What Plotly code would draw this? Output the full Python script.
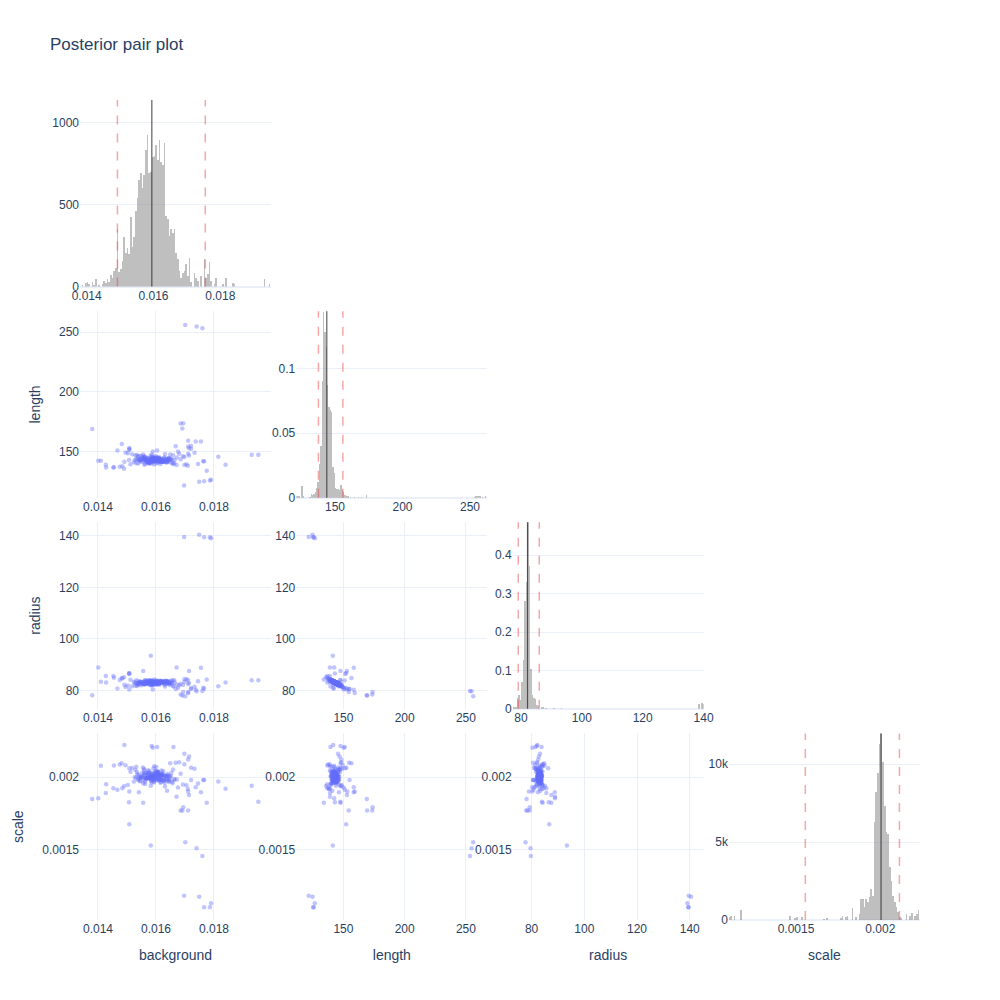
import plotly.graph_objects as go
from plotly.subplots import make_subplots

params = ["background", "length", "radius", "scale"]

# ---- posterior samples (thinned) ----
background = [
    0.01592, 0.01571, 0.01605, 0.01618, 0.01583, 0.01547, 0.01611, 0.01634, 0.01598, 0.01566,
    0.01623, 0.01557, 0.01589, 0.01602, 0.01641, 0.01615, 0.01579, 0.01538, 0.01596, 0.01652,
    0.01574, 0.01586, 0.01609, 0.01629, 0.01561, 0.01543, 0.01600, 0.01617, 0.01581, 0.01663,
    0.01595, 0.01626, 0.01552, 0.01588, 0.01607, 0.01637, 0.01569, 0.01593, 0.01529, 0.01612,
    0.01584, 0.01576, 0.01646, 0.01603, 0.01559, 0.01590, 0.01621, 0.01534, 0.01657, 0.01599,
    0.01518, 0.01563, 0.01672, 0.01610, 0.01587, 0.01577, 0.01644, 0.01601, 0.01549, 0.01628,
    0.01503, 0.01594, 0.01685, 0.01568, 0.01615, 0.01659, 0.01539, 0.01582, 0.01606, 0.01495,
    0.01698, 0.01631, 0.01524, 0.01573, 0.01591, 0.01676, 0.01512, 0.01555, 0.01620, 0.01484,
    0.01710, 0.01649, 0.01532, 0.01585, 0.01467, 0.01560, 0.01693, 0.01638, 0.01597, 0.01721,
    0.01455, 0.01508, 0.01705, 0.01668, 0.01475, 0.01541, 0.01733, 0.01680, 0.01490, 0.01745,
    0.01588, 0.01612, 0.01601, 0.01574, 0.01627, 0.01559, 0.01596, 0.01619, 0.01582, 0.01607,
    0.01565, 0.01633, 0.01593, 0.01578, 0.01604, 0.01645, 0.01551, 0.01599, 0.01614, 0.01586,
    0.01622, 0.01580, 0.01544, 0.01609, 0.01591, 0.01567, 0.01638, 0.01603, 0.01575, 0.01655,
    0.01597, 0.01536, 0.01616, 0.01585, 0.01629, 0.01562, 0.01606, 0.01590, 0.01648, 0.01571,
    0.01608, 0.01583, 0.01561, 0.01624, 0.01594, 0.01639, 0.01577, 0.01553, 0.01613, 0.01600,
    0.01568, 0.01621, 0.01594, 0.01547, 0.01636, 0.01603, 0.01579, 0.01612, 0.01558, 0.01642,
    0.01599, 0.01531, 0.01618, 0.01587, 0.01664, 0.01572, 0.01606, 0.01545, 0.01625, 0.01591,
    0.01611, 0.01576, 0.01653, 0.01595, 0.01540, 0.01630, 0.01583, 0.01604, 0.01566, 0.01619,
    0.01585, 0.01647, 0.01562, 0.01608, 0.01593, 0.01527, 0.01640, 0.01581, 0.01615, 0.01556,
    0.01491, 0.01589, 0.01604, 0.01660, 0.01585, 0.01698, 0.01714, 0.01711, 0.01410, 0.01482,
    0.01508, 0.01453, 0.01427, 0.01507, 0.01556, 0.01508, 0.01694, 0.01691, 0.01711, 0.01711,
    0.01755, 0.01775, 0.01763, 0.01766, 0.01721, 0.01401, 0.01671, 0.01714, 0.01428, 0.01737,
    0.01697, 0.01749, 0.01766, 0.01786, 0.01790,
    0.01701, 0.01740, 0.01760,
    0.01582, 0.01380, 0.01685,
    0.01930, 0.01953, 0.01840, 0.01815,
]
length = [
    143.2, 142.1, 144.5, 141.8, 143.9, 142.6, 145.3, 141.2, 143.0, 144.1,
    142.4, 143.6, 144.8, 142.9, 141.5, 143.3, 142.0, 145.9, 142.7, 140.9,
    144.2, 142.3, 143.7, 141.9, 145.0, 142.8, 146.2, 141.6, 143.4, 140.6,
    142.5, 144.6, 141.3, 143.1, 142.2, 144.0, 140.8, 143.5, 146.8, 142.0,
    143.8, 141.0, 144.3, 142.4, 145.6, 141.7, 143.0, 147.3, 140.4, 142.9,
    147.9, 139.9, 145.2, 142.6, 143.3, 140.7, 144.7, 142.2, 146.5, 141.4,
    148.6, 139.2, 143.6, 144.9, 141.9, 147.0, 140.1, 143.8, 142.5, 149.4,
    138.8, 148.1, 141.1, 144.4, 143.1, 150.2, 139.5, 145.8, 141.8, 137.9,
    138.2, 147.6, 140.3, 144.0, 151.0, 139.0, 146.1, 140.9, 143.7, 152.4,
    136.9, 153.1, 139.4, 154.6, 137.4, 146.3, 149.0, 148.2, 135.8, 139.7,
    143.8, 144.2, 142.1, 141.7, 143.0, 144.6, 142.4, 143.5, 141.9, 142.8,
    142.6, 143.9, 144.4, 141.5, 142.2, 143.1, 144.9, 142.0, 143.6, 141.8,
    141.6, 142.7, 143.3, 144.7, 142.9, 141.4, 143.2, 144.1, 142.3, 143.7,
    144.0, 143.4, 141.3, 142.5, 145.1, 143.0, 142.2, 141.9, 144.3, 142.8,
    142.1, 141.2, 143.9, 143.3, 144.5, 142.6, 141.7, 143.8, 142.4, 144.8,
    142.9, 141.3, 144.8, 143.4, 142.2, 145.4, 140.6, 143.9, 142.5, 144.1,
    141.0, 143.6, 142.7, 145.7, 143.2, 140.9, 144.5, 142.0, 141.8, 146.0,
    144.4, 139.8, 143.1, 142.3, 143.8, 141.5, 145.0, 140.4, 143.5, 142.6,
    140.2, 143.0, 145.9, 141.1, 144.2, 142.8, 141.6, 146.4, 139.6, 143.7,
    141.6, 150.2, 151.0, 139.4, 147.6, 145.5, 146.8, 148.2, 142.4, 156.5,
    151.4, 136.8, 139.0, 143.0, 147.6, 152.2, 173.8, 169.3, 159.2, 154.3,
    158.4, 134.0, 141.9, 141.9, 155.0, 142.4, 138.9, 152.8, 136.8, 158.4,
    121.6, 124.8, 125.2, 125.8, 126.6,
    255.9, 254.6, 253.3,
    141.3, 169.0, 173.5,
    147.5, 147.5, 139.0, 145.8,
]
radius = [
    83.1, 83.0, 82.4, 83.5, 82.6, 83.3, 82.2, 83.7, 82.8, 82.9,
    83.4, 82.7, 82.8, 82.9, 83.6, 83.2, 83.0, 82.1, 83.3, 83.8,
    82.5, 83.3, 83.0, 83.1, 82.3, 82.8, 82.4, 83.6, 82.7, 83.9,
    83.0, 82.7, 83.2, 83.1, 83.4, 82.5, 83.7, 82.9, 81.9, 83.2,
    83.0, 83.3, 82.5, 83.2, 82.6, 83.5, 83.1, 81.7, 83.8, 82.8,
    81.6, 84.0, 82.3, 83.0, 83.1, 83.4, 82.8, 83.0, 82.0, 83.6,
    81.9, 84.2, 82.6, 82.7, 83.5, 81.8, 83.5, 83.0, 82.9, 81.3,
    84.3, 81.5, 83.3, 82.4, 83.2, 81.0, 84.1, 82.5, 83.1, 84.6,
    84.0, 82.1, 83.9, 82.6, 80.7, 83.7, 82.1, 83.3, 82.9, 80.9,
    84.9, 80.3, 84.3, 80.5, 84.0, 82.4, 81.4, 82.0, 85.1, 83.5,
    82.6, 82.9, 83.4, 83.1, 83.2, 82.4, 82.9, 83.1, 83.5, 82.8,
    83.3, 82.6, 82.9, 83.2, 83.4, 82.8, 82.7, 83.0, 83.1, 83.5,
    83.1, 83.3, 82.7, 82.8, 83.2, 83.6, 82.8, 82.5, 83.0, 83.0,
    83.0, 82.7, 83.2, 83.3, 82.3, 83.2, 83.0, 83.5, 82.9, 82.8,
    83.0, 83.6, 82.6, 83.1, 82.8, 83.3, 83.1, 83.0, 82.9, 82.4,
    83.2, 83.2, 82.4, 83.1, 83.4, 82.6, 83.8, 82.6, 82.9, 82.9,
    83.7, 82.7, 83.3, 82.2, 83.0, 83.3, 82.8, 83.4, 83.1, 82.1,
    82.5, 84.0, 82.8, 83.3, 83.0, 83.6, 82.3, 83.5, 82.7, 83.2,
    83.9, 83.1, 82.5, 83.3, 82.6, 82.9, 83.5, 82.0, 83.7, 83.0,
    82.2, 80.3, 83.8, 81.5, 82.0, 83.2, 82.8, 82.5, 83.3, 84.8,
    86.3, 85.6, 85.6, 86.5, 87.5, 86.7, 79.3, 78.0, 79.0, 79.3,
    88.8, 84.2, 81.0, 80.6, 80.5, 88.9, 88.9, 87.5, 83.0, 80.2,
    139.6, 140.5, 139.5, 139.5, 139.1,
    77.7, 79.6, 79.7,
    93.4, 78.1, 78.4,
    83.9, 83.9, 83.0, 81.6,
]
scale = [
    0.002003, 0.001991, 0.001985, 0.002018, 0.002009, 0.001997, 0.002026, 0.002005, 0.001979, 0.001993,
    0.002012, 0.001988, 0.001999, 0.002031, 0.001976, 0.002015, 0.002001, 0.001982, 0.002038, 0.002007,
    0.001995, 0.002021, 0.002010, 0.001987, 0.001969, 0.002004, 0.002043, 0.002014, 0.001990, 0.001980,
    0.002008, 0.001972, 0.001996, 0.002024, 0.002016, 0.001984, 0.002002, 0.001962, 0.002049, 0.002011,
    0.001992, 0.002029, 0.002006, 0.001978, 0.002055, 0.001989, 0.002013, 0.002035, 0.001957, 0.001998,
    0.002061, 0.001952, 0.001983, 0.002019, 0.002007, 0.002041, 0.001966, 0.002068, 0.002000, 0.001974,
    0.001946, 0.002074, 0.002023, 0.001994, 0.001960, 0.002052, 0.001986, 0.001940, 0.002032, 0.002081,
    0.002088, 0.001935, 0.001970, 0.002046, 0.002058, 0.001928, 0.002036, 0.002065, 0.001981, 0.001923,
    0.001918, 0.002094, 0.002071, 0.001964, 0.001913, 0.002047, 0.001949, 0.001906, 0.002027, 0.002063,
    0.002079, 0.001901, 0.001944, 0.002098, 0.002085, 0.001896, 0.002057, 0.002102, 0.001938, 0.001955,
    0.002006, 0.001984, 0.001997, 0.002021, 0.001978, 0.002012, 0.002001, 0.001989, 0.002027, 0.001994,
    0.001981, 0.002009, 0.002016, 0.001992, 0.002033, 0.001975, 0.002003, 0.002019, 0.001987, 0.002011,
    0.002024, 0.001996, 0.001971, 0.002007, 0.001999, 0.002030, 0.001985, 0.002013, 0.002002, 0.001968,
    0.001990, 0.002017, 0.002004, 0.001977, 0.002010, 0.001993, 0.002036, 0.001983, 0.001998, 0.002022,
    0.002014, 0.001973, 0.002025, 0.002000, 0.001988, 0.002008, 0.001995, 0.002029, 0.001980, 0.002005,
    0.001988, 0.002015, 0.002008, 0.001972, 0.002001, 0.002034, 0.001994, 0.001979, 0.002022, 0.002011,
    0.002019, 0.001997, 0.001965, 0.002004, 0.001986, 0.002026, 0.002013, 0.001991, 0.002040, 0.001982,
    0.001976, 0.002009, 0.002030, 0.001989, 0.002017, 0.001961, 0.002002, 0.002024, 0.001993, 0.002045,
    0.002007, 0.001983, 0.002012, 0.002038, 0.001970, 0.001999, 0.002020, 0.001987, 0.002006, 0.001958,
    0.002220, 0.002200, 0.002205, 0.002205, 0.002213, 0.002160, 0.002140, 0.002120, 0.002078, 0.002094,
    0.002060, 0.001923, 0.001890, 0.001827, 0.001824, 0.001676, 0.001792, 0.001770, 0.001900, 0.001770,
    0.001895, 0.001824, 0.001980, 0.001980, 0.001980, 0.001854, 0.001865, 0.001877, 0.001950, 0.001930,
    0.001187, 0.001180, 0.001108, 0.001108, 0.001135,
    0.001553, 0.001512, 0.001459,
    0.001530, 0.001850, 0.001770,
    0.001940, 0.001830, 0.001920, 0.001970,
]

# ---- marginal histograms (probability density per bin) ----
bg_bin_start = 0.0138
bg_bin_width = 0.00005
bg_density = [
    0, 10, 0, 20, 28, 15, 0, 25, 10, 45,
    0, 10, 0, 15, 35, 20, 45, 30, 70, 50,
    95, 115, 350, 90, 105, 156, 300, 207, 237, 200,
    424, 240, 300, 460, 540, 650, 695, 600, 684, 836,
    928, 695, 700, 790, 795, 866, 775, 897, 760, 740,
    877, 430, 410, 308, 350, 330, 350, 207, 170, 95,
    55, 85, 95, 136, 65, 177, 25, 0, 85, 55,
    35, 0, 65, 0, 166, 55, 75, 150, 35, 0,
    15, 55, 0, 0, 0, 15, 0, 55, 0, 0,
    0, 20, 15, 0, 0, 0, 0, 0, 0, 0,
    0, 0, 0, 0, 0, 0, 0, 0, 0, 0,
    45, 0, 0, 15,
]

len_bin_width = 1.0
len_bin_left = [121.3, 122.2, 123.2, 125.2, 126.2, 131.2, 132.2, 133.2, 134.2, 135.2, 136.2,
                137.2, 138.2, 139.2, 140.2, 141.2, 142.2, 143.2, 144.2, 145.2, 146.2, 147.2,
                148.2, 149.2, 150.2, 151.2, 152.2, 153.2, 154.2, 155.2, 156.2, 157.2, 158.2,
                159.2, 161.2, 164.2, 167.2, 169.2, 173.2, 253.2, 254.2, 255.2, 256.2, 257.2,
                259.2, 261.2]
len_density = [0.0013, 0.0013, 0.001, 0.0088, 0.001, 0.0005, 0.003, 0.002, 0.003, 0.004,
               0.0075, 0.012, 0.026, 0.04, 0.09, 0.144, 0.128, 0.117, 0.087, 0.07,
               0.068, 0.066, 0.024, 0.019, 0.0075, 0.007, 0.0065, 0.0057, 0.0096, 0.006,
               0.004, 0.002, 0.0015, 0.001, 0.0008, 0.0005, 0.0005, 0.0005, 0.0018, 0.0008,
               0.0013, 0.0015, 0.0013, 0.001, 0.0008, 0.0013]

rad_bin_width = 0.5
rad_bin_left = [77.4, 77.9, 78.4, 78.9, 79.4, 79.9, 80.4, 80.9, 81.4, 81.9, 82.4,
                82.9, 83.4, 83.9, 84.4, 84.9, 85.4, 86.4, 86.9, 87.9, 90.4, 92.9,
                138.1, 139.1, 139.55]
rad_density = [0.004, 0.004, 0.028, 0.035, 0.022, 0.07, 0.126, 0.28, 0.33, 0.487, 0.372,
               0.104, 0.035, 0.028, 0.025, 0.009, 0.007, 0.003, 0.003, 0.002, 0.002, 0.002,
               0.013, 0.015, 0.013]

scale_bin_width = 0.00001
scale_bin_left = [0.00110, 0.00111, 0.00113, 0.00117, 0.00146, 0.00149, 0.00150, 0.00153,
                  0.00166, 0.00168, 0.00176, 0.00177, 0.00179, 0.00180, 0.00183, 0.00185,
                  0.00187, 0.00188, 0.00189, 0.00190, 0.00191, 0.00192, 0.00193, 0.00194,
                  0.00195, 0.00196, 0.00197, 0.00198, 0.00199, 0.00200, 0.00201, 0.00202,
                  0.00203, 0.00204, 0.00205, 0.00206, 0.00207, 0.00208, 0.00209, 0.00210,
                  0.00211, 0.00212, 0.00215, 0.00217, 0.00218, 0.00220, 0.00221, 0.00222]
scale_density = [150, 215, 260, 620, 250, 120, 180, 180,
                 60, 100, 120, 220, 150, 260, 750, 150,
                 360, 1330, 1330, 800, 1330, 1100, 1440, 1970,
                 1500, 6270, 8200, 9380, 11300, 11950, 10100, 7300,
                 5620, 5500, 3370, 2500, 1540, 1110, 800, 470,
                 150, 90, 360, 250, 430, 250, 360, 640]

# summary lines: median and credible interval
medians = [0.01595, 143.9, 82.15, 0.002004]
lower = [0.01492, 137.7, 79.1, 0.001555]
upper = [0.01755, 155.8, 86.0, 0.002113]

# ---------------------------------------------------------------
samples = [background, length, radius, scale]
hist_x = [
    [bg_bin_start + (k + 0.5) * bg_bin_width for k in range(len(bg_density))],
    [b + len_bin_width / 2 for b in len_bin_left],
    [b + rad_bin_width / 2 for b in rad_bin_left],
    [b + scale_bin_width / 2 for b in scale_bin_left],
]
hist_y = [bg_density, len_density, rad_density, scale_density]
hist_w = [bg_bin_width, len_bin_width, rad_bin_width, scale_bin_width]

hist_xrange = [[0.0138, 0.01952], [121.3, 262.9], [77.24, 140.05], [0.001102, 0.002235]]
hist_yrange = [[0, 1140], [0, 0.1445], [0, 0.4856], [0, 11975]]
scatter_range = [[0.01338, 0.01997], [111.5, 267.5], [72.8, 145.3], [0.00102, 0.0022986]]

specs = [[({} if c <= r else None) for c in range(4)] for r in range(4)]
fig = make_subplots(rows=4, cols=4, specs=specs,
                    horizontal_spacing=0.03, vertical_spacing=0.03)

for r in range(4):
    for c in range(r + 1):
        if r == c:
            fig.add_trace(go.Bar(x=hist_x[r], y=hist_y[r], width=hist_w[r],
                                 marker=dict(color="rgba(128,128,128,0.5)", line=dict(width=0)),
                                 showlegend=False, hoverinfo="x+y"),
                          row=r + 1, col=c + 1)
            fig.update_xaxes(range=hist_xrange[r], showgrid=False, row=r + 1, col=c + 1)
            fig.update_yaxes(range=hist_yrange[r], row=r + 1, col=c + 1)
            fig.add_vline(x=lower[r], line=dict(color="rgba(235,60,60,0.45)", width=1.5, dash="dash"),
                          row=r + 1, col=c + 1)
            fig.add_vline(x=upper[r], line=dict(color="rgba(235,60,60,0.45)", width=1.5, dash="dash"),
                          row=r + 1, col=c + 1)
            fig.add_vline(x=medians[r], line=dict(color="rgba(40,40,40,0.75)", width=1.2),
                          row=r + 1, col=c + 1)
        else:
            fig.add_trace(go.Scatter(x=samples[c], y=samples[r], mode="markers",
                                     marker=dict(color="#636efa", size=4.5, opacity=0.4),
                                     showlegend=False),
                          row=r + 1, col=c + 1)
            fig.update_xaxes(range=scatter_range[c], row=r + 1, col=c + 1)
            fig.update_yaxes(range=scatter_range[r], row=r + 1, col=c + 1)
        if r == 3:
            fig.update_xaxes(title_text=params[c], row=r + 1, col=c + 1)
        if c == 0 and r > 0:
            fig.update_yaxes(title_text=params[r], row=r + 1, col=c + 1)

fig.update_layout(
    template="plotly_white",
    width=1000, height=1000,
    font=dict(family="Liberation Sans, Arial, sans-serif"),
    title=dict(text="Posterior pair plot"),
    bargap=0,
    showlegend=False,
)

fig.write_html("out.html", config={"displayModeBar": False},
               post_script="document.body.style.margin='0px';")
